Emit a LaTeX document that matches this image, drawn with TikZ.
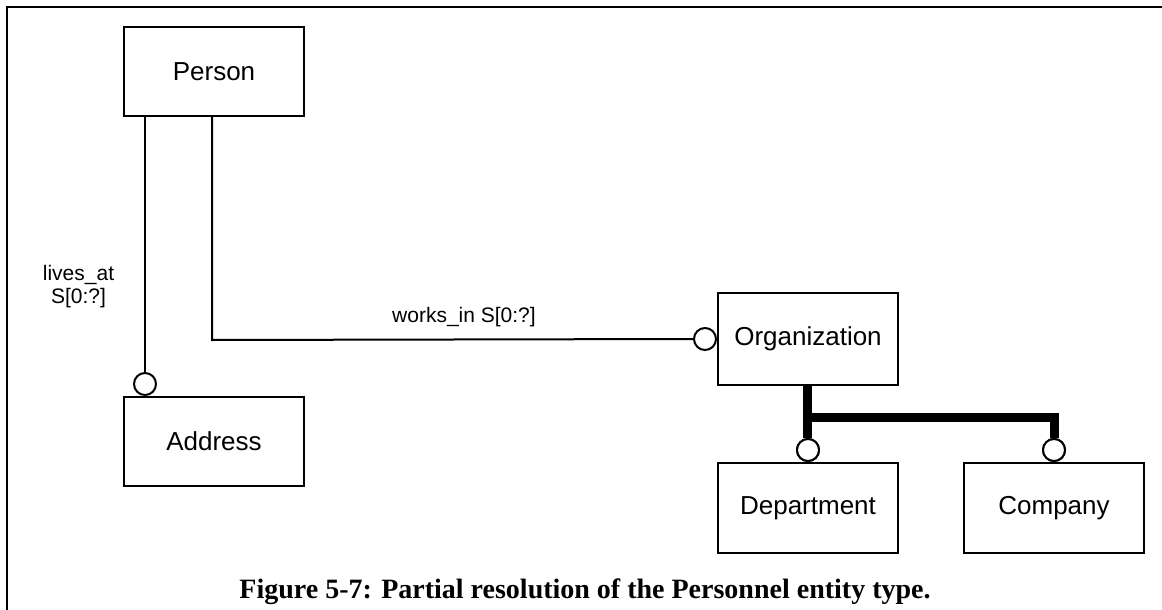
\documentclass[tikz,border=0pt]{standalone}
\usepackage{fontspec}
\setmainfont{Liberation Sans}
\newfontfamily\captionserif{Liberation Serif}
\begin{document}
\begin{tikzpicture}[x=1pt,y=-1pt,
  entity/.style={draw,line width=2pt,minimum width=180pt,inner sep=0pt,
    font=\fontsize{26}{30}\selectfont},
  ring/.style={draw,circle,line width=2pt,fill=white,minimum size=22pt,inner sep=0pt},
  link/.style={line width=2pt},
  sublink/.style={line width=9pt},
  lbl/.style={font=\fontsize{21}{23}\selectfont,align=center,inner sep=0pt}]
\useasboundingbox (0,0) rectangle (1162,610);

% frame
\draw[line width=2.5pt] (7,610) -- (7,7) -- (1162,7);

% entities
\node[entity,minimum height=89pt] (person) at (214,71.5) {Person};
\node[entity,minimum height=89pt] (address) at (214,441.5) {Address};
\node[entity,minimum height=92pt] (org) at (808,339) {Organization};
\node[entity,minimum height=90pt] (dept) at (808,508) {Department};
\node[entity,minimum height=90pt] (company) at (1054,508) {Company};

% optional-end rings
\node[ring,anchor=south] (addrring) at ([xshift=-69pt]address.north) {};
\node[ring,anchor=east] (orgring) at (org.west) {};
\node[ring,anchor=south] (deptring) at (dept.north) {};
\node[ring,anchor=south] (compring) at (company.north) {};

% lives_at
\draw[link] (person.south -| addrring) -- (addrring.north);
\node[lbl] (livesat) at (78.5,287) {lives\_at\\S[0:?]};

% works_in
\coordinate (worksbend) at (212,340);
\draw[link] (person.south -| worksbend) -- (worksbend) -- (orgring.west);
\node[lbl,anchor=base] (worksin) at (464,322) {works\_in S[0:?]};

% subtype tree
\coordinate (subsplit) at (807,417);
\draw[sublink] ([xshift=-1pt]org.south) -- ([xshift=-1pt]deptring.north);
\draw[sublink] (subsplit) -- (subsplit -| compring) -- (compring.north);
\node[ring] at (deptring) {};
\node[ring] at (compring) {};

% caption
\node[anchor=base,inner sep=0pt,font=\captionserif\bfseries\fontsize{28}{32}\selectfont] (caption) at (585,598)
  {Figure 5-7: Partial resolution of the Personnel entity type.};
\end{tikzpicture}
\end{document}
